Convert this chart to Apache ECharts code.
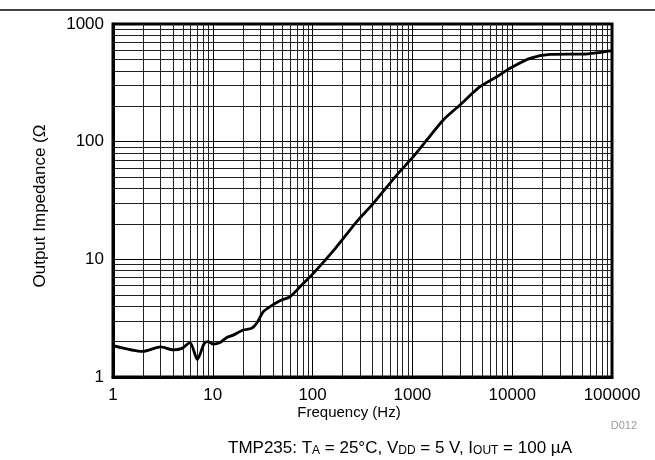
<!DOCTYPE html>
<html>
<head>
<meta charset="utf-8">
<script src="https://cdn.jsdelivr.net/npm/echarts@6/dist/echarts.min.js"></script>
<style>
html,body{margin:0;padding:0;background:#fff;}
#chart{width:655px;height:460px;}
</style>
</head>
<body>
<div id="chart"></div>
<script>
// Data
const frequencyHz = [1, 2, 3, 4, 4.9, 5.9, 7, 8.2, 9, 10.1, 11.8, 13.8, 16, 20.2, 24.5, 27.5, 32.1, 37.4, 47.1, 59.4, 74.8, 101.6, 165, 277, 406, 696, 984, 1390, 2040, 3000, 4760, 7000, 9510, 15070, 23900, 37900, 51600, 70300, 100000];
const impedanceOhm = [1.85, 1.65, 1.80, 1.70, 1.75, 1.96, 1.41, 1.93, 2.0, 1.90, 1.96, 2.17, 2.27, 2.51, 2.59, 2.86, 3.59, 3.96, 4.45, 4.81, 5.85, 7.6, 12.1, 20.9, 29.9, 52, 72, 103, 153, 205, 293, 356, 420, 510, 552, 555, 555, 569, 595];

const xDecades = [1, 10, 100, 1000, 10000];
const yDecades = [1, 10, 100];
const minorMultipliers = [2, 3, 4, 5, 6, 7, 8, 9];
const xTickLabels = ['1', '10', '100', '1000', '10000', '100000'];
const yTickLabels = ['1', '10', '100', '1000'];

const xTitle = 'Frequency (Hz)';
const yTitle = 'Output Impedance (\u03A9';
const sourceTag = 'D012';

const seriesData = frequencyHz.map((f, i) => [f, impedanceOhm[i]]);

const minorLines = [];
xDecades.forEach(d => minorMultipliers.forEach(m => minorLines.push({ xAxis: d * m })));
yDecades.forEach(d => minorMultipliers.forEach(m => minorLines.push({ yAxis: d * m })));

const FONT = '"Liberation Sans", Arial, Helvetica, sans-serif';

function fmt(list) {
  return function (v) {
    const idx = Math.round(Math.log10(v));
    return list[idx] !== undefined ? list[idx] : String(Math.round(v));
  };
}

const chart = echarts.init(document.getElementById('chart'), null, { renderer: 'canvas' });
chart.setOption({
  animation: false,
  backgroundColor: '#ffffff',
  grid: {
    left: 113, right: 43, top: 24, bottom: 83,
    show: true, borderColor: '#000', borderWidth: 3, backgroundColor: 'transparent'
  },
  xAxis: {
    type: 'log', logBase: 10, min: 1, max: 100000,
    axisLine: { show: true, lineStyle: { color: '#000', width: 3 } },
    axisTick: { show: false },
    splitLine: { show: true, lineStyle: { color: '#000', width: 1 } },
    axisLabel: { color: '#000', fontSize: 17, fontFamily: FONT, margin: 10, formatter: fmt(xTickLabels) }
  },
  yAxis: {
    type: 'log', logBase: 10, min: 1, max: 1000,
    axisLine: { show: true, lineStyle: { color: '#000', width: 3 } },
    axisTick: { show: false },
    splitLine: { show: true, lineStyle: { color: '#000', width: 1 } },
    axisLabel: { color: '#000', fontSize: 17, fontFamily: FONT, margin: 9, formatter: fmt(yTickLabels) }
  },
  series: [
    {
      type: 'line', data: [], z: 1, silent: true,
      markLine: {
        silent: true, symbol: ['none', 'none'], animation: false,
        label: { show: false },
        lineStyle: { color: '#222', width: 1, type: 'solid' },
        emphasis: { disabled: true },
        data: minorLines
      }
    },
    {
      type: 'line', data: seriesData, z: 5,
      showSymbol: false, symbol: 'none', smooth: 0.25,
      lineStyle: { color: '#000', width: 2.8 }
    }
  ],
  graphic: [
    { type: 'line', shape: { x1: 0, y1: 10, x2: 655, y2: 10 }, style: { stroke: '#000', lineWidth: 1.5 } },
    { type: 'text', x: 349, y: 413, style: { text: xTitle, font: '15px ' + FONT, fill: '#000', textAlign: 'center', textVerticalAlign: 'middle' } },
    { type: 'text', x: 40, y: 206, rotation: Math.PI / 2, style: { text: yTitle, font: '17px ' + FONT, fill: '#000', textAlign: 'center', textVerticalAlign: 'middle' } },
    { type: 'text', x: 637, y: 426, style: { text: sourceTag, font: '11px ' + FONT, fill: '#999', textAlign: 'right', textVerticalAlign: 'middle' } },
    {
      type: 'text', x: 400, y: 448,
      style: {
        text: '{m|TMP235: T}{s|A}{m| = 25°C, V}{s|DD}{m| = 5 V, I}{s|OUT}{m| = 100 µA}',
        textAlign: 'center', textVerticalAlign: 'middle',
        rich: {
          m: { fontSize: 17, fontFamily: FONT, fill: '#000', color: '#000' },
          s: { fontSize: 12, fontFamily: FONT, fill: '#000', color: '#000', padding: [6, 0, 0, 0] }
        }
      }
    }
  ]
});
</script>
</body>
</html>
